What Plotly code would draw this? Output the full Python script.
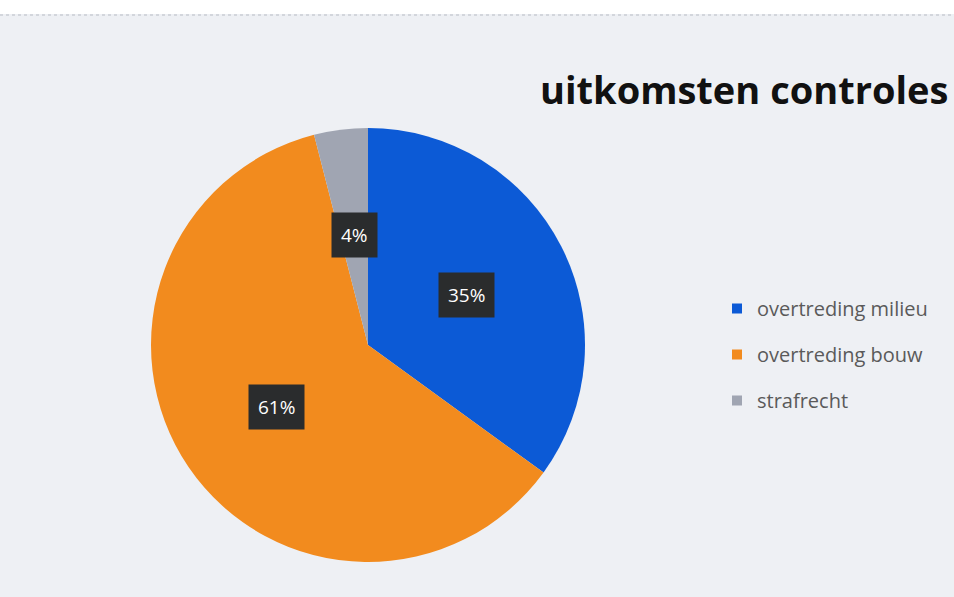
import math
import plotly.graph_objects as go

# ---- data ----
categories = ["overtreding milieu", "overtreding bouw", "strafrecht"]
values = [35, 61, 4]
colors = ["#0c5ad6", "#f28b1e", "#a0a5b2"]
title_text = "uitkomsten controles"

W, H = 954, 597
CX, CY, R = 368, 345, 217  # pie centre/radius in px

fig = go.Figure()
fig.add_trace(go.Pie(
    labels=categories, values=values, sort=False, direction="clockwise",
    rotation=0, marker=dict(colors=colors, line=dict(width=0)),
    textinfo="none", hoverinfo="label+percent", showlegend=False,
    domain=dict(x=[(CX - R) / W, (CX + R) / W],
                y=[(H - CY - R) / H, (H - CY + R) / H]),
))

# legend entries (dummy traces so the spacing can be controlled)
for i, (c, col) in enumerate(zip(categories, colors)):
    fig.add_trace(go.Scatter(
        x=[None], y=[None], mode="markers", name=c, legendgroup=f"g{i}",
        marker=dict(symbol="square", size=10, color=col),
    ))

# data labels with dark boxes, placed at half radius of each slice's mid angle
total = sum(values)
cum = 0
annotations = []
for v in values:
    mid = (cum + v / 2) / total * 2 * math.pi
    cum += v
    px = CX + 0.51 * R * math.sin(mid)
    py = CY - 0.51 * R * math.cos(mid)
    annotations.append(dict(
        x=px / W, y=1 - py / H, xref="paper", yref="paper",
        xanchor="center", yanchor="middle",
        text=f"{round(v / total * 100)}%", showarrow=False,
        font=dict(family="Open Sans", size=19, color="white"),
        bgcolor="#2a2c2d", borderpad=9,
    ))

annotations.append(dict(
    x=538 / W, y=1 - 89 / H, xref="paper", yref="paper", xanchor="left",
    yanchor="middle", text=f"<b>{title_text}</b>", showarrow=False,
    font=dict(family="Open Sans", size=38, color="#111111"),
))

fig.update_layout(
    width=W, height=H, margin=dict(l=0, r=0, t=0, b=0),
    paper_bgcolor="#eef0f4", plot_bgcolor="#eef0f4",
    xaxis=dict(visible=False), yaxis=dict(visible=False),
    annotations=annotations,
    shapes=[
        dict(type="rect", xref="paper", yref="paper", x0=0, x1=1,
             y0=1 - 14 / H, y1=1, fillcolor="#ffffff", line=dict(width=0),
             layer="below"),
        dict(type="line", xref="paper", yref="paper", x0=0, x1=1,
             y0=1 - 15 / H, y1=1 - 15 / H,
             line=dict(color="#b8bcc4", width=1, dash="dot"), layer="below"),
    ],
    legend=dict(x=717 / W, y=1 - 289 / H, xanchor="left", yanchor="top",
                font=dict(family="Open Sans", size=20, color="#5a5a5a"),
                tracegroupgap=17, bgcolor="rgba(0,0,0,0)", itemwidth=30),
)

fig.write_html("out.html", config={"displayModeBar": False},
               post_script="document.body.style.margin='0';")
